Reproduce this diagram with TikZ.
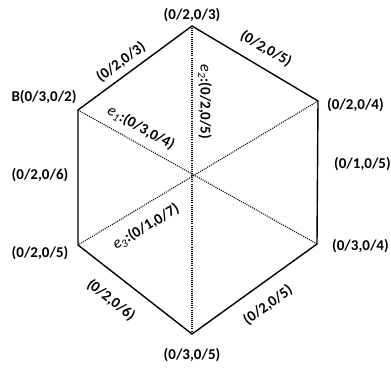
\documentclass[tikz,border=0pt]{standalone}
\usepackage{fontspec}
\setmainfont{Carlito}
\newcommand{\evar}[1]{{\normalfont\itshape\fontsize{16}{18}\selectfont e\textsubscript{#1}}}
\begin{document}
\begin{tikzpicture}[x=1pt,y=-1pt,
  lab/.style={font=\bfseries\fontsize{15}{18}\selectfont, inner sep=0pt},
  hexedge/.style={line width=1.4pt, line join=miter},
  diag/.style={line width=1.1pt, dash pattern=on 1pt off 1.1pt}]
\useasboundingbox (0,0) rectangle (391,368);
\coordinate (T) at (192,26);
\coordinate (UR) at (318,101);
\coordinate (LR) at (317,244);
\coordinate (B) at (192,334);
\coordinate (LL) at (78,245);
\coordinate (UL) at (78,110);
\draw[diag] (T) -- (B);
\draw[diag] (UL) -- (LR);
\draw[diag] (UR) -- (LL);
\draw[hexedge] (T) -- (UR) -- (LR) -- (B) -- (LL) -- (UL) -- cycle;
% vertex labels
\node[lab] (lt) at (192,15) {(0/2,0/3)};
\node[lab] (lul) at (44,97) {B(0/3,0/2)};
\node[lab] (lml) at (40,175) {(0/2,0/6)};
\node[lab] (lll) at (40,253) {(0/2,0/5)};
\node[lab, anchor=west] (lur) at (327,105) {(0/2,0/4)};
\node[lab, anchor=west] (lmr) at (334,164) {(0/1,0/5)};
\node[lab, anchor=west] (llr) at (332,246) {(0/3,0/4)};
\node[lab] (lb) at (192,355) {(0/3,0/5)};
% edge labels
\node[lab, rotate=36.4] (e1l) at (121,62) {(0/2,0/3)};
\node[lab, rotate=-30.4] (e2l) at (266,49) {(0/2,0/5)};
\node[lab, rotate=35.8] (e3l) at (268,305) {(0/2,0/5)};
\node[lab, rotate=-38] (e4l) at (111,300) {(0/2,0/6)};
% diagonal labels
\node[lab, rotate=-29.3] (d1) at (141,128) {\evar{1}:(0/3,0/4)};
\node[lab, rotate=-90] (d2) at (205,102) {\evar{2}:(0/2,0/5)};
\node[lab, rotate=31] (d3) at (146,227) {\evar{3}:(0/1,0/7)};
\end{tikzpicture}
\end{document}
